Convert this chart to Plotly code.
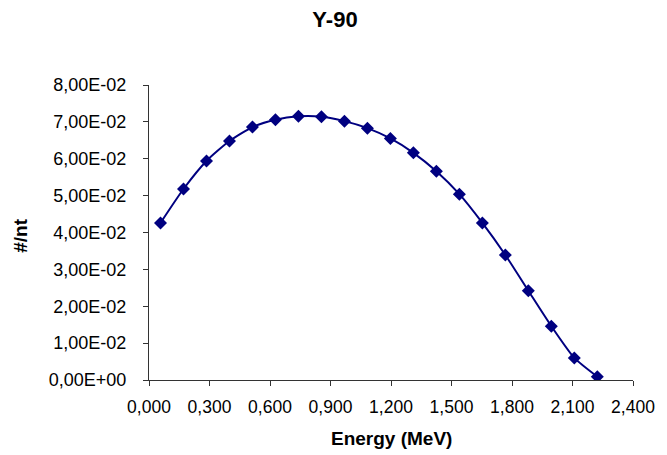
import plotly.graph_objects as go

# Data
energy_mev = [0.057, 0.171, 0.285, 0.399, 0.513, 0.627, 0.741, 0.855, 0.969, 1.083,
              1.197, 1.311, 1.425, 1.539, 1.653, 1.767, 1.881, 1.995, 2.109, 2.223]
counts_per_nt = [0.0426, 0.0518, 0.0594, 0.0648, 0.0686, 0.0706, 0.0715, 0.0714, 0.0702, 0.0683,
                 0.0655, 0.0616, 0.0566, 0.0504, 0.0426, 0.0339, 0.0242, 0.0146, 0.0060, 0.0009]

x_tick_vals = [0.0, 0.3, 0.6, 0.9, 1.2, 1.5, 1.8, 2.1, 2.4]
x_tick_text = ["0,000", "0,300", "0,600", "0,900", "1,200", "1,500", "1,800", "2,100", "2,400"]
y_tick_vals = [0.0, 0.01, 0.02, 0.03, 0.04, 0.05, 0.06, 0.07, 0.08]
y_tick_text = ["0,00E+00", "1,00E-02", "2,00E-02", "3,00E-02", "4,00E-02",
               "5,00E-02", "6,00E-02", "7,00E-02", "8,00E-02"]

FONT = "Liberation Sans, Arial, sans-serif"
NAVY = "#000080"

fig = go.Figure()
fig.add_trace(go.Scatter(
    x=energy_mev, y=counts_per_nt, mode="lines+markers",
    line=dict(color=NAVY, width=2, shape="spline", smoothing=0.6),
    marker=dict(symbol="diamond", size=10, color=NAVY),
    showlegend=False, hoverinfo="x+y",
))

fig.update_layout(
    width=667, height=455,
    margin=dict(l=149, r=24, t=85, b=75),
    paper_bgcolor="white", plot_bgcolor="white",
    font=dict(family=FONT, size=17, color="black"),
    title=dict(text="<b>Y-90</b>", font=dict(family=FONT, size=22, color="black"),
               x=335 / 667, xref="container", xanchor="center",
               y=1 - 19 / 455, yref="container", yanchor="middle"),
    xaxis=dict(range=[0, 2.4], tickvals=x_tick_vals, ticktext=x_tick_text,
               showgrid=False, zeroline=False, showline=True, linecolor="#333333", linewidth=1,
               ticks="outside", ticklen=5, tickcolor="#333333", ticklabelstandoff=6,
               tickfont=dict(family=FONT, size=17.5, color="black")),
    yaxis=dict(range=[0, 0.08], tickvals=y_tick_vals, ticktext=y_tick_text,
               showgrid=False, zeroline=False, showline=True, linecolor="#333333", linewidth=1,
               ticks="outside", ticklen=5, tickcolor="#333333", ticklabelstandoff=13,
               tickfont=dict(family=FONT, size=18, color="black")),
    annotations=[
        dict(text="<b>Energy (MeV)</b>", xref="paper", yref="paper",
             x=0.5, y=(380 - 439) / 295.3, xanchor="center", yanchor="middle",
             showarrow=False, font=dict(family=FONT, size=19, color="black")),
        dict(text="<b>#/nt</b>", xref="paper", yref="paper",
             x=(17 - 149) / 494, y=(380 - 236) / 295.3, xanchor="center", yanchor="middle",
             textangle=-90, showarrow=False, font=dict(family=FONT, size=19, color="black")),
    ],
)

# Remove the page's default body margin so the figure sits at the window's top-left corner.
fig.write_html("out.html",
               config={"displayModeBar": False},
               post_script="document.body.style.margin='0';document.body.style.overflow='hidden';")
